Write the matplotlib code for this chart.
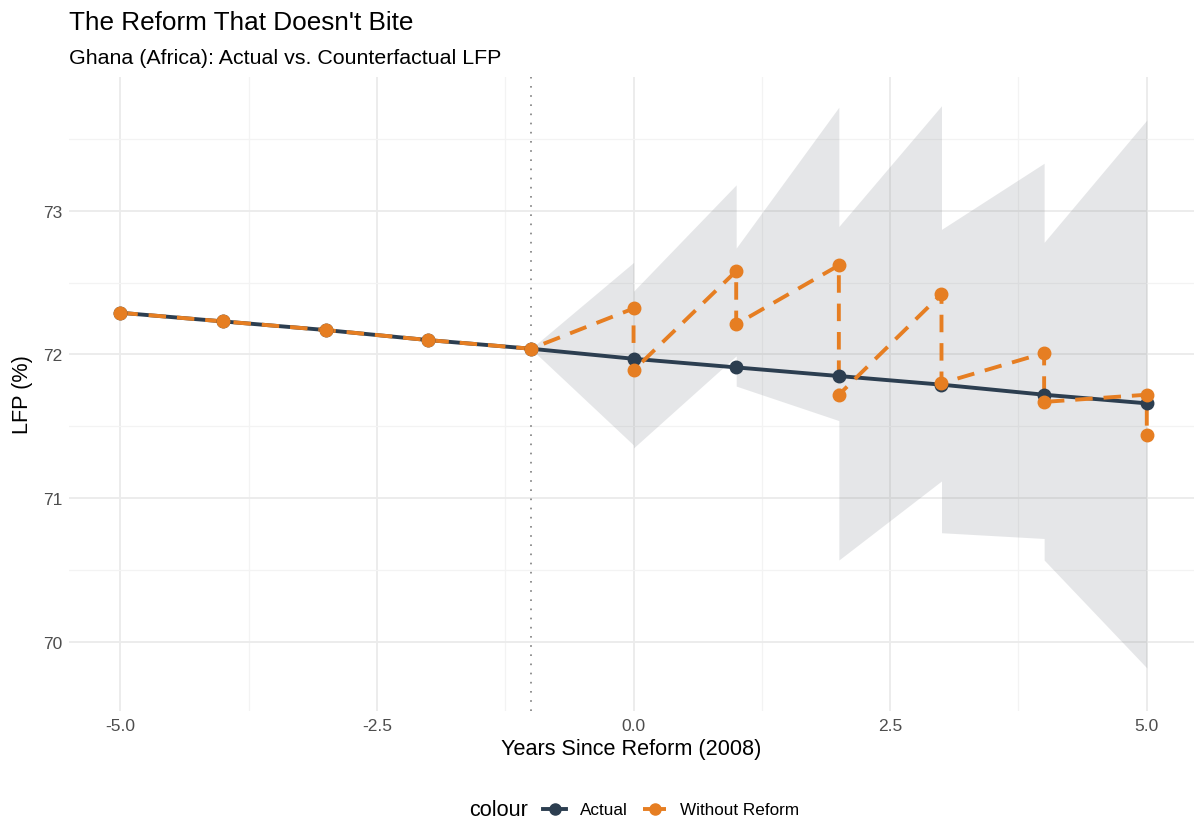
import matplotlib.pyplot as plt
from matplotlib.lines import Line2D
from matplotlib.ticker import MultipleLocator

# actual labour force participation
years = [-5, -4, -3, -2, -1, 0, 1, 2, 3, 4, 5]
actual = [72.29, 72.23, 72.17, 72.10, 72.04, 71.97, 71.91, 71.85, 71.79, 71.72, 71.66]

# counterfactual (two estimates per post-reform year)
cf_years = [-5, -4, -3, -2, -1, 0, 0, 1, 1, 2, 2, 3, 3, 4, 4, 5, 5]
cf_values = [72.29, 72.23, 72.17, 72.10, 72.04,
             72.32, 71.89, 72.58, 72.21, 72.62, 71.72,
             72.42, 71.80, 72.01, 71.67, 71.72, 71.44]

# uncertainty band around the counterfactual
band_years = [-1, 0, 0, 1, 1, 2, 2, 3, 3, 4, 4, 5]
band_upper = [72.04, 72.64, 72.44, 73.18, 72.74, 73.72, 72.89, 73.73, 72.87, 73.33, 72.78, 73.63]
band_lower = [72.04, 71.37, 71.35, 71.99, 71.78, 71.54, 70.57, 71.12, 70.76, 70.72, 70.57, 69.82]

reform_year = -1
col_actual = "#2C3E50"
col_cf = "#E67E22"

plt.rcParams["font.family"] = ["Liberation Sans", "DejaVu Sans"]

W, H = 1194, 820
fig = plt.figure(figsize=(W / 100, H / 100), dpi=100)
left, right, top, bottom = 69, 1194, 78, 712
ax = fig.add_axes([left / W, 1 - bottom / H, (right - left) / W, (bottom - top) / H])

ax.fill_between(band_years, band_lower, band_upper, color=(0.45, 0.47, 0.5),
                alpha=0.18, linewidth=0, zorder=2)
ax.axvline(reform_year, color="#7f7f7f", linestyle=(0, (1, 4.5)), linewidth=1.2, zorder=3)

ax.plot(years, actual, color=col_actual, linewidth=2.8, zorder=4)
ax.plot(cf_years, cf_values, color=col_cf, linewidth=2.8, dashes=(4.5, 2.8), zorder=5)
ax.plot(years, actual, "o", color=col_actual, markersize=9, zorder=6)
ax.plot(cf_years, cf_values, "o", color=col_cf, markersize=9, zorder=7)

ax.set_xlim(-5.5, 5.46)
ax.set_ylim(69.52, 73.93)
ax.xaxis.set_major_locator(MultipleLocator(2.5))
ax.xaxis.set_minor_locator(MultipleLocator(1.25))
ax.yaxis.set_major_locator(MultipleLocator(1))
ax.yaxis.set_minor_locator(MultipleLocator(0.5))
ax.set_xticklabels([f"{v:.1f}" for v in ax.get_xticks()])
ax.grid(which="major", color="#EBEBEB", linewidth=1.3, zorder=0)
ax.grid(which="minor", color="#F3F3F3", linewidth=0.9, zorder=0)
ax.set_axisbelow(True)
for s in ax.spines.values():
    s.set_visible(False)
ax.tick_params(which="both", length=0, labelsize=12.5, labelcolor="#4D4D4D", pad=5)
ax.set_xlabel("Years Since Reform (2008)", fontsize=15.6, labelpad=4)
ax.set_ylabel("LFP (%)", fontsize=15.6, labelpad=7)

fig.text(69 / W, 1 - 30 / H, "The Reform That Doesn't Bite", fontsize=18.8, va="baseline")
fig.text(69 / W, 1 - 64 / H, "Ghana (Africa): Actual vs. Counterfactual LFP", fontsize=15.4, va="baseline")

handles = [
    Line2D([], [], color=col_actual, linewidth=2.8, marker="o", markersize=8),
    Line2D([], [], color=col_cf, linewidth=2.8, dashes=(2.5, 1.5), marker="o", markersize=8),
]
fig.text(469 / W, 1 - 811 / H, "colour", fontsize=15.6, va="center")
fig.legend(handles, ["Actual", "Without Reform"], ncol=2, frameon=False,
           loc="center left", bbox_to_anchor=(528 / W, 1 - 811 / H),
           fontsize=12.3, handlelength=1.35, handletextpad=0.8, columnspacing=0.9)

fig.savefig("out.png", dpi=100)
